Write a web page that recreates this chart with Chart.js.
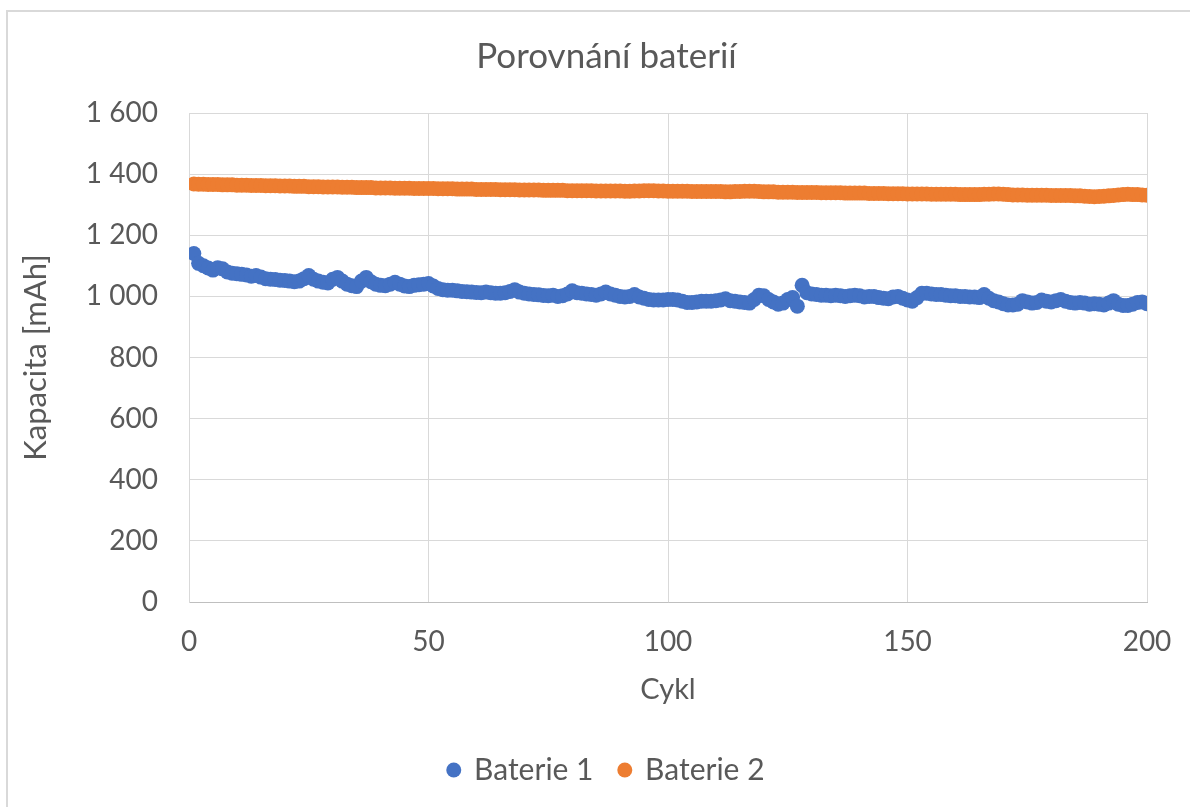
<!DOCTYPE html>
<html><head><meta charset="utf-8">
<script src="https://cdn.jsdelivr.net/npm/chart.js@4.4.1/dist/chart.umd.min.js"></script>
<style>html,body{margin:0;padding:0;background:#fff;overflow:hidden}#wrap{position:absolute;left:0;top:0;width:1190px;height:807px}</style>
</head><body><div id="wrap"><canvas id="c" width="1190" height="807"></canvas></div>
<script>
const chartTitle = 'Porovnání baterií';
const seriesNames = ['Baterie 1', 'Baterie 2'];
const xAxisTitle = 'Cykl';
const yAxisTitle = 'Kapacita [mAh]';
const xTickLabels = ['0', '50', '100', '150', '200'];
const yTickLabels = ['0', '200', '400', '600', '800', '1 000', '1 200', '1 400', '1 600'];

const baterie1 = [
  1140,1108,1100,1093,1086,1094,1090,1080,1076,1074,
  1072,1070,1066,1068,1063,1058,1056,1055,1053,1052,
  1050,1048,1050,1058,1068,1056,1050,1046,1044,1056,
  1062,1050,1040,1035,1032,1050,1062,1048,1040,1036,
  1035,1040,1046,1040,1034,1032,1036,1038,1040,1042,
  1034,1026,1022,1020,1020,1018,1016,1015,1014,1013,
  1012,1014,1012,1010,1010,1012,1016,1022,1014,1010,
  1008,1006,1005,1003,1002,1004,1000,1002,1008,1018,
  1012,1010,1008,1006,1004,1008,1014,1008,1004,1000,
  998,1000,1006,998,994,990,988,988,988,990,
  990,988,984,980,980,982,984,984,984,986,
  988,992,986,984,982,980,978,990,1004,1002,
  990,982,974,978,990,996,968,1036,1012,1008,
  1006,1004,1004,1002,1004,1002,1000,1002,1004,1002,
  998,1000,1000,996,994,992,998,1000,994,988,
  984,996,1010,1010,1008,1006,1006,1004,1002,1002,
  1000,1000,998,998,996,1006,994,986,982,976,
  972,972,974,986,982,978,980,988,984,982,
  986,990,984,980,978,980,978,974,976,974,
  972,978,986,974,970,970,974,980,982,976
];

const baterie2 = [
  1368,1367,1367,1366,1366,1366,1365,1365,1365,1364,
  1364,1364,1363,1363,1363,1362,1362,1362,1361,1361,
  1361,1360,1360,1360,1359,1359,1359,1358,1358,1358,
  1358,1357,1357,1357,1356,1356,1356,1356,1355,1355,
  1355,1355,1354,1354,1354,1354,1353,1353,1353,1353,
  1353,1352,1352,1352,1352,1351,1351,1351,1351,1350,
  1350,1350,1350,1350,1349,1349,1349,1349,1348,1348,
  1348,1348,1348,1347,1347,1347,1347,1347,1346,1346,
  1346,1346,1346,1346,1345,1345,1345,1345,1345,1345,
  1344,1344,1345,1345,1346,1346,1346,1345,1345,1344,
  1344,1344,1344,1344,1343,1343,1343,1343,1343,1343,
  1343,1342,1342,1343,1343,1344,1344,1344,1343,1342,
  1342,1342,1341,1341,1341,1341,1340,1340,1340,1340,
  1340,1339,1339,1339,1339,1339,1338,1338,1338,1338,
  1338,1337,1337,1337,1337,1336,1336,1336,1336,1335,
  1335,1335,1335,1335,1334,1334,1334,1334,1334,1334,
  1333,1333,1333,1333,1333,1334,1334,1335,1335,1334,
  1333,1332,1332,1332,1331,1331,1331,1331,1331,1330,
  1330,1330,1330,1330,1329,1329,1328,1327,1326,1327,
  1328,1329,1330,1332,1333,1334,1333,1333,1332,1331
];

const cycles = baterie1.map((_, i) => i + 1);
const toPoints = (vals) => vals.map((v, i) => ({ x: cycles[i], y: v }));

const FONT = 'Lato, "Open Sans", sans-serif';
const TXT = '#595959';
const GRID = '#d9d9d9';

const frame = {
  id: 'frame',
  beforeDraw(chart) {
    const ctx = chart.ctx;
    ctx.save();
    ctx.fillStyle = '#ffffff';
    ctx.fillRect(0, 0, chart.width, chart.height);
    ctx.strokeStyle = '#d9d9d9';
    ctx.lineWidth = 2;
    ctx.strokeRect(7, 11, chart.width + 20, chart.height + 20);
    ctx.restore();
  }
};

new Chart(document.getElementById('c'), {
  type: 'scatter',
  data: {
    datasets: [
      { label: seriesNames[0], data: toPoints(baterie1), backgroundColor: '#4472C4', borderColor: '#4472C4', pointRadius: 7.5, pointHoverRadius: 7.5, pointBorderWidth: 0, showLine: false },
      { label: seriesNames[1], data: toPoints(baterie2), backgroundColor: '#ED7D31', borderColor: '#ED7D31', pointRadius: 7.5, pointHoverRadius: 7.5, pointBorderWidth: 0, showLine: false }
    ]
  },
  options: {
    responsive: false,
    animation: false,
    devicePixelRatio: 1,
    layout: { padding: { left: 66, right: 43, top: 0, bottom: 18 } },
    plugins: {
      title: { display: true, text: chartTitle, color: TXT, font: { family: FONT, size: 35, weight: 'normal' }, padding: { top: 36, bottom: 35 } },
      legend: {
        position: 'bottom',
        maxHeight: 60,
        labels: { usePointStyle: true, pointStyle: 'circle', boxWidth: 10.6, boxHeight: 10.6, color: TXT, font: { family: FONT, size: 30 }, padding: 26 }
      },
      tooltip: { enabled: false }
    },
    scales: {
      x: {
        type: 'linear', min: 0, max: 200,
        afterFit: (s) => { s.height = 127; s.paddingRight = 0; s.paddingLeft = 0; },
        ticks: { stepSize: 50, color: TXT, font: { family: FONT, size: 28 }, padding: 23, maxRotation: 0,
          callback: (v) => { const i = [0,50,100,150,200].indexOf(v); return i >= 0 ? xTickLabels[i] : ''; } },
        grid: { color: GRID, lineWidth: 1, drawTicks: false },
        border: { color: '#bfbfbf', width: 1 },
        title: { display: true, text: xAxisTitle, color: TXT, font: { family: FONT, size: 29 }, padding: { top: 13, bottom: 21.6 } }
      },
      y: {
        min: 0, max: 1600,
        afterFit: (s) => { s.width = 123; },
        ticks: { stepSize: 200, color: TXT, font: { family: FONT, size: 28 }, padding: 31,
          callback: (v) => yTickLabels[Math.round(v / 200)] },
        grid: { color: GRID, lineWidth: 1, drawTicks: false },
        border: { color: GRID, width: 1 },
        title: { display: true, text: yAxisTitle, color: TXT, font: { family: FONT, size: 31 }, padding: { top: -49, bottom: 0 } }
      }
    }
  },
  plugins: [frame]
});
</script>
</body></html>
